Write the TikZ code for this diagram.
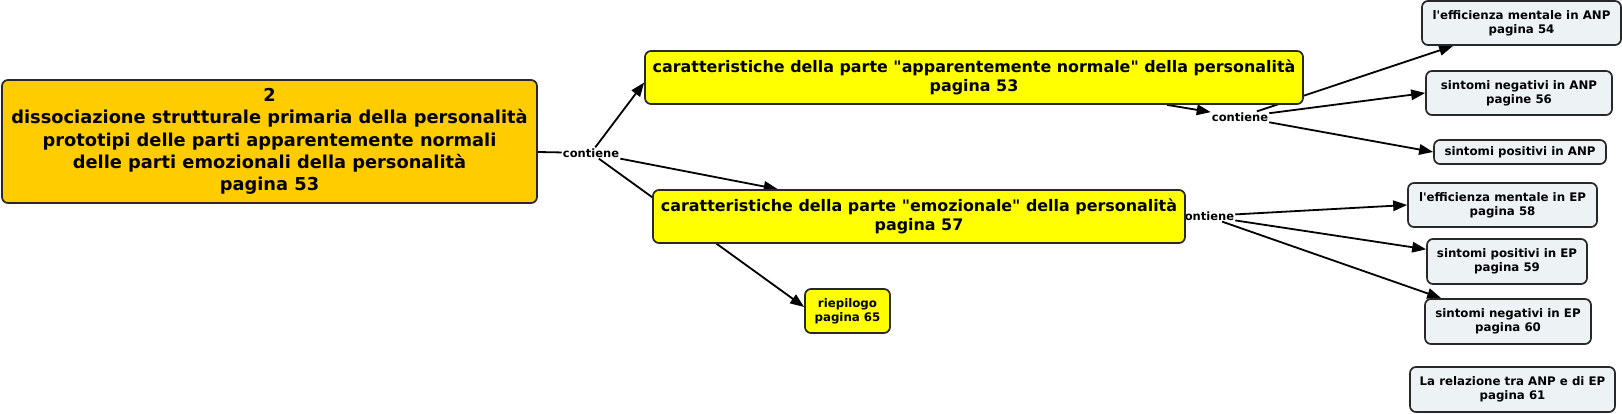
\documentclass[tikz,border=0pt]{standalone}
\usepackage{fontspec}
\setmainfont{DejaVu Sans}
\usepackage{xcolor}
\usetikzlibrary{arrows.meta,positioning,backgrounds}

\definecolor{mainorange}{RGB}{255,204,0}
\definecolor{partyellow}{RGB}{255,255,0}
\definecolor{leafgray}{RGB}{237,243,245}
\definecolor{edgegray}{RGB}{40,40,40}

\begin{document}
\begin{tikzpicture}[
      x=1pt, y=-1pt,
      box/.style={draw=edgegray, line width=1.7pt, rounded corners=6pt, align=center, inner sep=0pt},
      topbox/.style={box, fill=mainorange, font=\fontsize{17.8}{22.4}\selectfont\bfseries},
      partbox/.style={box, fill=partyellow, font=\fontsize{15.9}{19.7}\selectfont\bfseries},
      leaf/.style={box, fill=leafgray, font=\fontsize{11.8}{14}\selectfont\bfseries},
      smallpart/.style={box, fill=partyellow, font=\fontsize{11.8}{14}\selectfont\bfseries},
      link/.style={font=\fontsize{11.5}{13}\selectfont\bfseries, inner sep=1pt},
      arr/.style={-{Triangle[length=14pt,width=10.5pt]}, line width=1.8pt, draw=black},
      seg/.style={line width=1.8pt, draw=black}
    ]
      \useasboundingbox (0,0) rectangle (1622,414);
      % root
      \node[topbox, minimum width=535pt, minimum height=123pt] (root) at (269.5,141.5)
        {2\\dissociazione strutturale primaria della personalità\\prototipi delle parti apparentemente normali\\delle parti emozionali della personalità\\pagina 53};
      % linking phrases
      \node[link] (c1) at (591,153) {contiene};
      \node[link] (c2) at (1240,117) {contiene};
      \node[link] (c3) at (1206,216) {contiene};
      % second level
      \node[partbox, minimum width=658pt, minimum height=53pt] (anp) at (974,77.5)
        {caratteristiche della parte \textquotedbl apparentemente normale\textquotedbl{} della personalità\\pagina 53};
      \node[partbox, minimum width=532pt, minimum height=53pt] (ep) at (919,216.5)
        {caratteristiche della parte \textquotedbl emozionale\textquotedbl{} della personalità\\pagina 57};
      \node[smallpart, minimum width=85pt, minimum height=44pt] (riep) at (847.5,311)
        {riepilogo\\pagina 65};
      % ANP leaves
      \node[leaf, minimum width=199pt, minimum height=44pt] (effanp) at (1521.5,23)
        {l\textquotesingle efficienza mentale in ANP\\pagina 54};
      \node[leaf, minimum width=186pt, minimum height=44pt] (neganp) at (1519,93)
        {sintomi negativi in ANP\\pagine 56};
      \node[leaf, minimum width=172pt, minimum height=24pt] (posanp) at (1520,152)
        {sintomi positivi in ANP};
      % EP leaves
      \node[leaf, minimum width=189pt, minimum height=44pt] (effep) at (1502.5,205)
        {l\textquotesingle efficienza mentale in EP\\pagina 58};
      \node[leaf, minimum width=160pt, minimum height=45pt] (posep) at (1507,261.5)
        {sintomi positivi in EP\\pagina 59};
      \node[leaf, minimum width=166pt, minimum height=45pt] (negep) at (1508,321.5)
        {sintomi negativi in EP\\pagina 60};
      \node[leaf, minimum width=205pt, minimum height=45pt] (relaz) at (1512.5,389.5)
        {La relazione tra ANP e di EP\\pagina 61};
      % connectors
      \begin{pgfonlayer}{background}
        \draw[seg] ([yshift=-10.5pt]root.east) -- (c1);
        \draw[arr] (c1) -- ([yshift=-5pt]anp.west);
        \draw[arr] (c1) -- (ep);
        \draw[arr] (c1) -- ([yshift=4pt]riep.west);
        \draw[arr] ([xshift=193pt]anp.south) -- (c2);
        \draw[arr] (c2) -- (effanp);
        \draw[arr] (c2) -- (neganp.west);
        \draw[arr] (c2) -- (posanp.west);
        \draw[arr] (c3) -- (effep.west);
        \draw[arr] (c3) -- (posep);
        \draw[arr] (c3) -- (negep);
      \end{pgfonlayer}
    \end{tikzpicture}
\end{document}
